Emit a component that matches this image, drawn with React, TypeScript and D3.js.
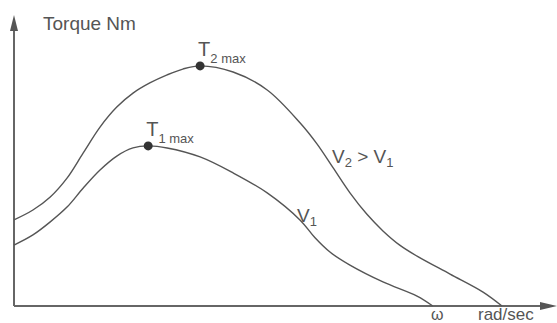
import React from 'react';
import * as d3 from 'd3';

// speed (arbitrary units, 0..100) and torque (0..100)
const v2Omega = [0, 3.5, 6.7, 9.8, 12.8, 15.9, 19, 22, 25.1, 28.3, 31.2, 34.4, 40.5, 46.8, 52.9, 56, 59, 62.1, 65.2, 68.2, 71.3, 74.5, 80.6, 86.7, 90.2];
const v2Torque = [29.7, 33.1, 37.6, 44.1, 52.8, 61.7, 68.6, 73.4, 76.9, 79.7, 81.7, 82.8, 80.7, 74.5, 63.1, 55.9, 47.6, 39, 31.7, 25.9, 21, 17.2, 11, 4.8, 0];

const v1Omega = [0, 3.5, 6.7, 9.8, 12.8, 15.9, 19, 22, 24.8, 28.3, 34.4, 40.5, 46.8, 52.9, 55.6, 58.4, 62.1, 68.2, 74.5, 77.4];
const v1Torque = [21, 24.5, 29, 34.1, 40.7, 46.9, 51.7, 54.5, 55.2, 54.5, 51.4, 45.9, 39, 29.6, 23.6, 18.6, 14.1, 8.3, 3.4, 0];

const peaks = [
  { label: 'T', sub: '1 max', omega: 24.8, torque: 55.2 },
  { label: 'T', sub: '2 max', omega: 34.4, torque: 82.8 },
];

const W = 557;
const H = 323;
const ink = '#555';
const font = 'Liberation Sans, Arial, sans-serif';

export default function App() {
  const x = d3.scaleLinear().domain([0, 100]).range([14, 555]);
  const y = d3.scaleLinear().domain([0, 100]).range([306, 16]);

  const line = d3
    .line<[number, number]>()
    .x(d => x(d[0]))
    .y(d => y(d[1]))
    .curve(d3.curveCatmullRom.alpha(0.5));

  const v2 = v2Omega.map((o, i) => [o, v2Torque[i]] as [number, number]);
  const v1 = v1Omega.map((o, i) => [o, v1Torque[i]] as [number, number]);

  const x0 = x(0);
  const y0 = y(0);

  return (
    <svg width={W} height={H} style={{ position: 'absolute', left: 0, top: 0, background: '#fff' }} fontFamily={font}>
      {/* axes with arrow heads */}
      <line x1={x0} y1={y0} x2={x0} y2={28} stroke="#666" strokeWidth={2} />
      <path d={`M${x0},15 L${x0 - 4},31 L${x0 + 4},31 Z`} fill="#555" />
      <line x1={x0} y1={y0} x2={543} y2={y0} stroke="#666" strokeWidth={2} />
      <path d={`M557,${y0} L540,${y0 - 4} L540,${y0 + 4} Z`} fill="#555" />

      <path d={line(v2) || ''} fill="none" stroke={ink} strokeWidth={1.4} />
      <path d={line(v1) || ''} fill="none" stroke={ink} strokeWidth={1.4} />

      {peaks.map(p => (
        <g key={p.sub}>
          <circle cx={x(p.omega)} cy={y(p.torque)} r={4.5} fill="#333" />
          <text x={x(p.omega) - 2} y={y(p.torque) - 10} fill={ink} fontSize={20}>
            {p.label}
            <tspan fontSize={13} dy={7}>{p.sub}</tspan>
          </text>
        </g>
      ))}

      <text x={43} y={30} fill={ink} fontSize={19}>Torque Nm</text>

      <text x={332} y={163} fill={ink} fontSize={19}>
        V<tspan fontSize={13} dy={4}>2</tspan>
        <tspan dy={-4}> &gt; V</tspan>
        <tspan fontSize={13} dy={4}>1</tspan>
      </text>

      <text x={297} y={222} fill={ink} fontSize={19}>
        V<tspan fontSize={13} dy={4}>1</tspan>
      </text>

      <text x={431} y={320} fill={ink} fontSize={16}>ω</text>
      <text x={478} y={320} fill={ink} fontSize={17}>rad/sec</text>
    </svg>
  );
}
